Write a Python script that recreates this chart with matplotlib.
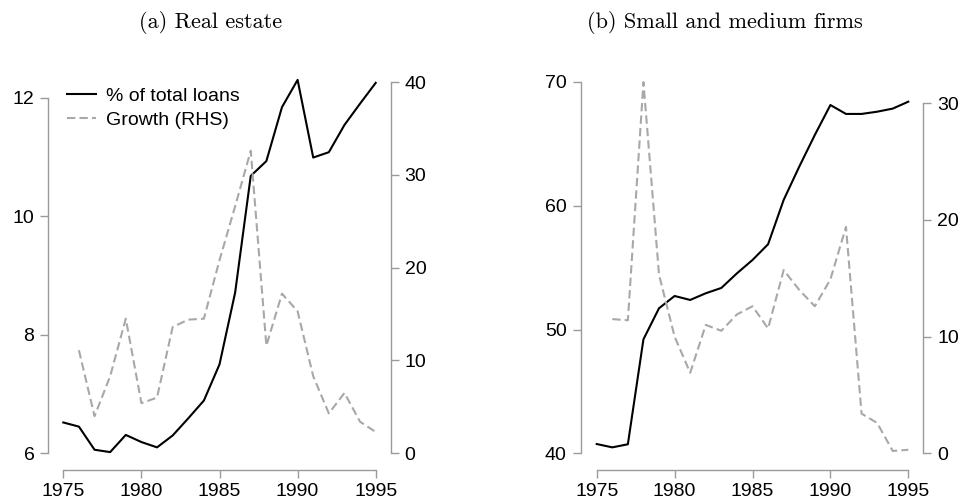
import numpy as np
import matplotlib
matplotlib.use("Agg")
import matplotlib.pyplot as plt

# Data
years = list(range(1975, 1996))

real_estate_share = [6.52, 6.45, 6.06, 6.02, 6.31, 6.19, 6.10, 6.30, 6.59, 6.89,
                     7.50, 8.71, 10.68, 10.93, 11.84, 12.30, 10.99, 11.08, 11.54,
                     11.90, 12.25]
real_estate_growth = [np.nan, 11.1, 4.0, 8.3, 14.5, 5.4, 6.0, 13.6, 14.4, 14.5,
                      20.8, 26.6, 32.6, 11.6, 17.2, 15.3, 8.3, 4.3, 6.5, 3.4, 2.3]

sme_share = [40.75, 40.48, 40.73, 49.21, 51.72, 52.71, 52.39, 52.93, 53.36, 54.54,
             55.62, 56.89, 60.47, 63.16, 65.72, 68.14, 67.42, 67.42, 67.60, 67.85,
             68.41]
sme_growth = [np.nan, 11.5, 11.4, 31.8, 15.3, 10.0, 6.9, 11.0, 10.5, 11.9,
              12.6, 10.7, 15.7, 14.0, 12.6, 14.9, 19.4, 3.4, 2.6, 0.2, 0.3]

x_ticks = [1975, 1980, 1985, 1990, 1995]

plt.rcParams['font.family'] = ['Liberation Sans', 'DejaVu Sans']

GREY_AXIS = '#9a9a9a'
GREY_LINE = '#a8a8a8'
PX = 72 / 100  # pixels -> points at dpi 100
FS = 14


def style_axis(ax, side, offset_px, bounds, ticks):
    for name in ['top', 'bottom', 'left', 'right']:
        ax.spines[name].set_visible(False)
    sp = ax.spines[side]
    sp.set_visible(True)
    sp.set_color(GREY_AXIS)
    sp.set_linewidth(1.0)
    sp.set_position(('outward', offset_px * PX))
    sp.set_bounds(*bounds)
    ax.set_yticks(ticks)
    ax.tick_params(axis='y', which='both', direction='out', length=6, width=1.0,
                   color=GREY_AXIS, labelcolor='black', labelsize=FS, pad=4,
                   left=(side == 'left'), labelleft=(side == 'left'),
                   right=(side == 'right'), labelright=(side == 'right'))


def draw_panel(fig, rect, share, growth, ylim_l, ticks_l, ylim_r, ticks_r,
               off_l, off_r, legend=False):
    ax = fig.add_axes(rect)
    ax.patch.set_visible(False)
    ax2 = ax.twinx()
    ax2.patch.set_visible(False)

    l1, = ax.plot(years, share, color='black', lw=1.5, label='% of total loans',
                  clip_on=False, zorder=3)
    l2, = ax2.plot(years, growth, color=GREY_LINE, lw=1.5, ls=(0, (4, 2)),
                   label='Growth (RHS)', clip_on=False)

    ax.set_xlim(1975, 1995)
    ax.set_ylim(*ylim_l)
    ax2.set_ylim(*ylim_r)

    style_axis(ax, 'left', off_l, (ticks_l[0], ticks_l[-1]), ticks_l)
    style_axis(ax2, 'right', off_r, (ticks_r[0], ticks_r[-1]), ticks_r)

    # bottom axis
    ax.spines['bottom'].set_visible(True)
    ax.spines['bottom'].set_color(GREY_AXIS)
    ax.spines['bottom'].set_linewidth(1.0)
    ax.spines['bottom'].set_position(('outward', 16.7 * PX))
    ax.spines['bottom'].set_bounds(1975, 1995)
    ax.set_xticks(x_ticks)
    ax.tick_params(axis='x', direction='out', length=6, width=1.0,
                   color=GREY_AXIS, labelcolor='black', labelsize=FS, pad=3)
    ax2.tick_params(axis='x', bottom=False, labelbottom=False)

    if legend:
        ax2.legend([l1, l2], ['% of total loans', 'Growth (RHS)'],
                   loc='upper left', bbox_to_anchor=(0.012, 0.985),
                   frameon=False, fontsize=FS, borderpad=0, borderaxespad=0,
                   handlelength=1.5, handletextpad=0.5, labelspacing=0.3)
    return ax, ax2


fig = plt.figure(figsize=(9.63, 5.04), dpi=100)

bottom = (504 - 453.3) / 504
height = 371.3 / 504

draw_panel(fig, [63.3 / 963, bottom, 312.4 / 963, height],
           real_estate_share, real_estate_growth,
           (6, 6 + 371.3 / 59.27), [6, 8, 10, 12],
           (0, 40), [0, 10, 20, 30, 40],
           15, 15, legend=True)

draw_panel(fig, [596.7 / 963, bottom, 311.6 / 963, height],
           sme_share, sme_growth,
           (40, 70), [40, 50, 60, 70],
           (0, 371.3 / 11.67), [0, 10, 20, 30],
           16, 15)

# Panel titles
fig.text(211 / 963, 1 - 22 / 504, '(a) Real estate', family='cmr10',
         fontsize=16, ha='center', va='center')
fig.text(725 / 963, 1 - 22 / 504, '(b) Small and medium firms', family='cmr10',
         fontsize=16, ha='center', va='center')

fig.savefig('out.png', dpi=100)
